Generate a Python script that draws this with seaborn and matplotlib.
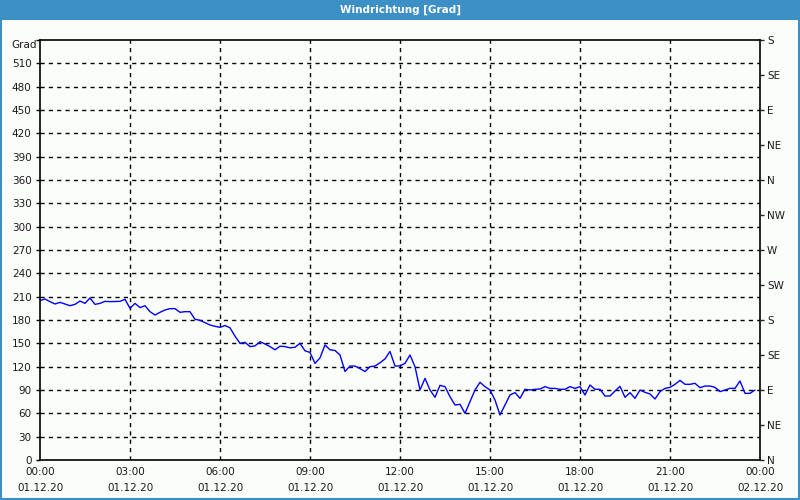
import matplotlib
matplotlib.use("Agg")
import matplotlib.pyplot as plt
import seaborn as sns
import numpy as np
import pandas as pd
from matplotlib.ticker import MultipleLocator, FixedLocator

# ---- data (10-minute readings, 01.12.20) ----
minutes = list(range(0, 1440, 10))
direction = [
    205, 207, 203.6, 200.6, 202.7, 200.6, 198.4, 200.1, 204.4, 201.4,
    208.3, 200.1, 201.4, 204, 203.6, 203.8, 204, 206.6, 195, 201.4,
    195.9, 198.4, 190.7, 186.4, 189.9, 192.9, 194.6, 194.6, 189.9, 190.7,
    190.7, 180.9, 179.6, 176.6, 173.6, 171.9, 170.6, 172.9, 170, 159.2,
    150, 151.3, 145.8, 146.7, 152.1, 149.2, 145.8, 141.7, 146.3, 145.8,
    144.2, 145, 150, 140.4, 138.3, 124.2, 131.3, 147.9, 141.7, 140.8,
    135, 113.8, 120.8, 120.8, 117.5, 113.8, 120, 120.8, 125, 130,
    139.6, 120.8, 121, 124.3, 135, 120, 90, 105, 90, 80.6,
    96, 94.3, 81.4, 70.7, 71.6, 60, 75, 90, 99.9, 94.3,
    90, 77.1, 57.9, 70.7, 83.6, 86.6, 79.3, 90.9, 90, 90.9,
    91.3, 94.3, 92.1, 92.1, 90.9, 90.9, 94.3, 92.1, 94.3, 83.6,
    96.4, 90.9, 90.9, 82.3, 82.3, 88.7, 94.7, 80.6, 86.6, 79.3,
    90, 87, 84.9, 78.4, 87.9, 92.1, 93.4, 97.3, 102.4, 97.3,
    97.3, 98.6, 93, 95.1, 95.1, 93.4, 87.9, 90, 92.1, 92.1,
    101.6, 85.7, 85.7, 90,
]
x_tick_labels = ["00:00\n01.12.20", "03:00\n01.12.20", "06:00\n01.12.20",
                 "09:00\n01.12.20", "12:00\n01.12.20", "15:00\n01.12.20",
                 "18:00\n01.12.20", "21:00\n01.12.20", "00:00\n02.12.20"]
compass_labels = ["N", "NE", "E", "SE", "S", "SW", "W", "NW",
                  "N", "NE", "E", "SE", "S"]
title = "Windrichtung [Grad]"
unit = "Grad"

df = pd.DataFrame({"hours": np.array(minutes) / 60.0, "deg": direction})

sns.set_style("white")
plt.rcParams["font.family"] = ["DejaVu Sans"]

bg = "#fbfdfb"
txt = "#1a1a1a"
fig = plt.figure(figsize=(8, 5), dpi=100, facecolor=bg)

# title bar
bar = fig.add_axes([0, 1 - 20 / 500, 1, 20 / 500])
bar.set_facecolor("#3c90c6")
bar.set_xticks([]); bar.set_yticks([])
for s in bar.spines.values():
    s.set_visible(False)
bar.text(0.5, 0.5, title, color="white", fontsize=7.5, fontweight="bold",
         ha="center", va="center", transform=bar.transAxes)

# border
border = plt.Rectangle((0.001, 0.002), 0.998, 0.96, transform=fig.transFigure,
                       fill=False, edgecolor="#3c90c6", lw=1.5)
fig.patches.append(border)

ax = fig.add_axes([40 / 800, 1 - 460 / 500, 720 / 800, 420 / 500])
ax.set_facecolor(bg)
sns.lineplot(data=df, x="hours", y="deg", ax=ax, color="#0000ff", lw=1)

ax.set_xlim(0, 24)
ax.set_ylim(0, 540)
ax.set_xlabel(""); ax.set_ylabel("")

ax.yaxis.set_major_locator(MultipleLocator(30))
ax.set_yticklabels([str(int(v)) if v < 540 else "" for v in ax.get_yticks()])
ax.xaxis.set_major_locator(MultipleLocator(3))
ax.xaxis.set_minor_locator(MultipleLocator(1))
ax.set_xticks(np.arange(0, 25, 3))
ax.set_xticklabels(x_tick_labels)

ax.tick_params(axis="both", which="major", direction="out", length=3,
               width=1, labelsize=7.5, colors="black", labelcolor=txt, pad=3)
ax.tick_params(axis="x", which="major", pad=2)
ax.tick_params(axis="x", which="minor", direction="out", length=3, width=1)
for lab in ax.get_xticklabels():
    lab.set_linespacing(1.75)

ax.grid(False)
for v in range(30, 540, 30):
    ax.axhline(v, color="black", lw=1, ls=(0, (3, 3)), zorder=0)
for h in range(3, 24, 3):
    ax.axvline(h, color="black", lw=1, ls=(0, (3, 3)), zorder=0)

for s in ax.spines.values():
    s.set_visible(True)
    s.set_color("black")
    s.set_linewidth(1.2)

ax2 = ax.twinx()
ax2.set_ylim(0, 540)
ax2.yaxis.set_major_locator(FixedLocator(list(range(0, 541, 45))))
ax2.set_yticklabels(compass_labels)
ax2.tick_params(axis="y", direction="out", length=3, width=1, labelsize=7.5,
                labelcolor=txt, pad=2)
for s in ax2.spines.values():
    s.set_visible(False)

ax.text(-0.004, 1.0, unit, transform=ax.transAxes, ha="right", va="top",
        fontsize=7.5, color=txt)

fig.savefig("out.png", dpi=100, facecolor=bg)
